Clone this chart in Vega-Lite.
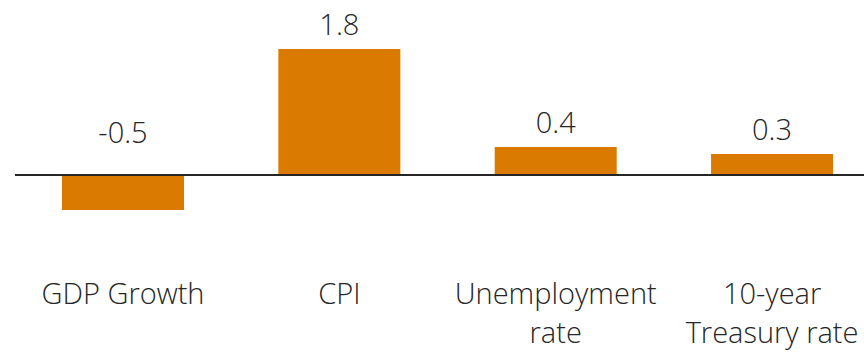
{
  "$schema": "https://vega.github.io/schema/vega-lite/v6.json",
  "width": 849,
  "height": 245,
  "autosize": {"type": "none"},
  "padding": {"left": 15, "top": 0, "right": 0, "bottom": 107},
  "background": "white",
  "config": {
    "view": {"stroke": null},
    "font": "Open Sans",
    "text": {"font": "Open Sans", "fontWeight": 300}
  },
  "data": {
    "values": [
      {"category": "GDP Growth", "value": -0.5},
      {"category": "CPI", "value": 1.8},
      {"category": "Unemployment rate", "value": 0.4},
      {"category": "10-year Treasury rate", "value": 0.3}
    ]
  },
  "encoding": {
    "x": {
      "field": "category",
      "type": "nominal",
      "sort": null,
      "scale": {"paddingInner": 0.436, "paddingOuter": 0.18, "align": 0.603},
      "axis": {
        "title": null,
        "orient": "bottom",
        "domain": false,
        "ticks": false,
        "labelAngle": 0,
        "labelFont": "Open Sans",
        "labelFontWeight": 300,
        "labelFontSize": 29,
        "labelColor": "#262626",
        "labelBaseline": "top",
        "labelPadding": 35,
        "labelLineHeight": 39,
        "labelLimit": 300,
        "labelOverlap": false,
        "labelExpr": "datum.label == 'Unemployment rate' ? ['Unemployment', 'rate'] : datum.label == '10-year Treasury rate' ? ['10-year', 'Treasury rate'] : datum.label"
      }
    }
  },
  "layer": [
    {
      "mark": {"type": "bar", "color": "#db7a00"},
      "encoding": {
        "y": {
          "field": "value",
          "type": "quantitative",
          "scale": {"domain": [-1, 2.5], "nice": false, "zero": true},
          "axis": null
        }
      }
    },
    {
      "transform": [{"filter": "datum.value >= 0"}],
      "mark": {"type": "text", "fontSize": 29, "fontWeight": 300, "color": "#262626", "baseline": "bottom", "dy": -8},
      "encoding": {
        "y": {"field": "value", "type": "quantitative"},
        "text": {"field": "value", "type": "nominal"}
      }
    },
    {
      "transform": [{"filter": "datum.value < 0"}],
      "mark": {"type": "text", "fontSize": 29, "fontWeight": 300, "color": "#262626", "baseline": "bottom", "dy": -26},
      "encoding": {
        "y": {"datum": 0, "type": "quantitative"},
        "text": {"field": "value", "type": "nominal"}
      }
    },
    {
      "mark": {"type": "rule", "color": "#262626", "strokeWidth": 1.5},
      "encoding": {
        "y": {"datum": 0, "type": "quantitative"},
        "x": {"value": 0},
        "x2": {"value": 849}
      }
    }
  ]
}
